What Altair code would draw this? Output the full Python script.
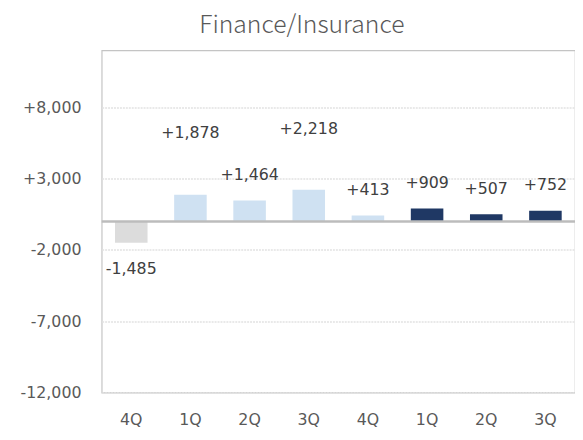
import altair as alt
import pandas as pd

quarters = ["4Q", "1Q", "2Q", "3Q", "4Q", "1Q", "2Q", "3Q"]
values = [-1485, 1878, 1464, 2218, 413, 909, 507, 752]
groups = ["g0", "g1", "g1", "g1", "g1", "g2", "g2", "g2"]
raised = [False, True, False, True, False, False, False, False]
y_ticks = [-12000, -7000, -2000, 3000, 8000]

df = pd.DataFrame({
    "key": [f"{i}_{q}" for i, q in enumerate(quarters)],
    "v": values,
    "g": groups,
    "raised": raised,
})

FONT = "DejaVu Sans"
TFONT = "Noto Sans CJK JP"
order = list(df["key"])

x = alt.X("key:N", sort=order, scale=alt.Scale(paddingInner=0.45, paddingOuter=0.225),
          axis=alt.Axis(title=None, labelExpr="split(datum.value,'_')[1]", ticks=False,
                        domain=False, labelPadding=19, labelFontSize=16, labelFont=FONT,
                        labelColor="#595959", labelAngle=0))
y_scale = alt.Scale(domain=[-12000, 12000], nice=False, zero=False)

base = alt.Chart(df)

bars = base.mark_bar().encode(
    x=x,
    y=alt.Y("v:Q", scale=y_scale,
            axis=alt.Axis(title=None, values=y_ticks, ticks=False, domain=False,
                          labelPadding=21, labelFontSize=16, labelFont=FONT,
                          labelColor="#595959",
                          labelExpr="replace((datum.value>0?'+':'') + format(datum.value, ','), '\u2212', '-')",
                          grid=True, gridColor="#e2e2e2", gridDash=[2, 1], gridWidth=1.5)),
    color=alt.Color("g:N", scale=alt.Scale(domain=["g0", "g1", "g2"],
                                           range=["#dcdcdc", "#cfe1f2", "#1f3864"]),
                    legend=None),
)

zero = alt.Chart(pd.DataFrame({"z": [0]})).mark_rule(color="#bcbcbc", strokeWidth=2.5).encode(
    y=alt.Y("z:Q", scale=y_scale)
)

lab = base.transform_calculate(
    t="replace((datum.v>0?'+':'') + format(datum.v, ','), '\u2212', '-')"
)
text_style = dict(font=FONT, fontSize=16, color="#404040", baseline="middle", align="center")

pos_lab = lab.transform_filter("datum.v > 0 && !datum.raised").mark_text(dy=-26, **text_style).encode(
    x=alt.X("key:N", sort=order), y=alt.Y("v:Q", scale=y_scale), text="t:N")
hi_lab = lab.transform_filter("datum.v > 0 && datum.raised").mark_text(dy=-62, **text_style).encode(
    x=alt.X("key:N", sort=order), y=alt.Y("v:Q", scale=y_scale), text="t:N")
neg_lab = lab.transform_filter("datum.v < 0").mark_text(dy=27, **text_style).encode(
    x=alt.X("key:N", sort=order), y=alt.Y("v:Q", scale=y_scale), text="t:N")

chart = alt.layer(bars, zero, pos_lab, hi_lab, neg_lab).properties(
    width=480, height=347,
    title=alt.TitleParams("Finance/Insurance", font=TFONT, fontSize=25, fontWeight=300,
                          color="#595959", anchor="middle", frame="group", dx=-37, offset=13),
    autosize=alt.AutoSizeParams(type="none"),
    padding={"left": 95, "top": 40, "right": 0, "bottom": 37},
).configure_view(stroke="#c4c4c4", strokeWidth=1.2)

chart.save("out.html", embed_options={"renderer": "svg", "actions": False})
